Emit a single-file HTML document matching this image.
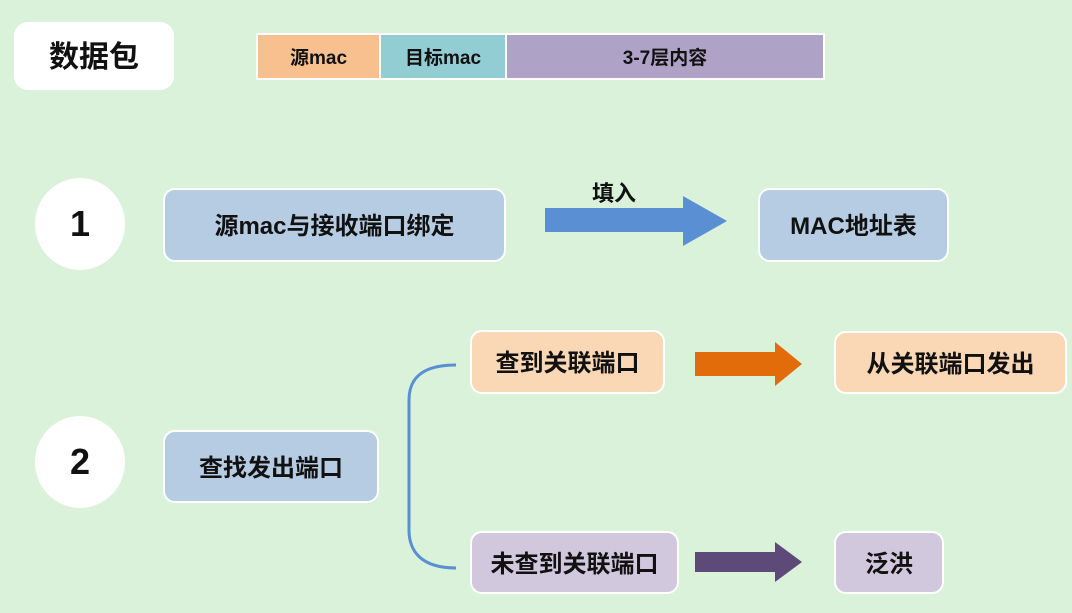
<!DOCTYPE html>
<html><head><meta charset="utf-8"><style>
body{margin:0;width:1072px;height:613px;background:#daf1da;position:relative;overflow:hidden;font-family:"Liberation Sans","Noto Sans CJK SC",sans-serif;font-weight:bold;color:#111}
.b{position:absolute;display:flex;align-items:center;justify-content:center;border-radius:12px;border:2px solid #fff;box-sizing:border-box;font-size:24px;line-height:1;padding-top:4px}
.c{position:absolute;width:90px;height:92px;border-radius:50%;background:#fff;display:flex;align-items:center;justify-content:center;font-size:36px;line-height:1}
.s{position:absolute;top:33px;height:47px;display:flex;align-items:center;justify-content:center;font-size:19px;border:2px solid #fff;box-sizing:border-box;line-height:1;padding-top:3px}
</style></head><body>
<div class="b" style="left:14px;top:22px;width:160px;height:68px;background:#fff;border-radius:14px;font-size:30px">数据包</div>
<div class="s" style="left:256px;width:125px;background:#f8c08e">源mac</div>
<div class="s" style="left:379px;width:128px;background:#93cdd4">目标mac</div>
<div class="s" style="left:505px;width:320px;background:#afa2c7">3-7层内容</div>

<div class="c" style="left:35px;top:178px">1</div>
<div class="b" style="left:163px;top:188px;width:343px;height:74px;background:#b5cce3">源mac与接收端口绑定</div>
<div style="position:absolute;left:592px;top:176px;font-size:22px">填入</div>
<svg style="position:absolute;left:0;top:0" width="1072" height="613">
<polygon points="545,208 683,208 683,196 727,221 683,246 683,232 545,232" fill="#5a8fd3"/>
<polygon points="695,352 775,352 775,342 802,364 775,386 775,376 695,376" fill="#e36c0a"/>
<polygon points="695,552 775,552 775,542 802,562 775,582 775,572 695,572" fill="#5e4a78"/>
<path d="M456,365 C420,365 409,380 409,400 L409,530 C409,550 420,568 456,568" fill="none" stroke="#5a8fd3" stroke-width="3"/>
</svg>
<div class="b" style="left:758px;top:188px;width:191px;height:74px;background:#b5cce3">MAC地址表</div>

<div class="c" style="left:35px;top:416px">2</div>
<div class="b" style="left:163px;top:430px;width:216px;height:73px;background:#b5cce3">查找发出端口</div>
<div class="b" style="left:470px;top:330px;width:195px;height:64px;background:#fad7b5">查到关联端口</div>
<div class="b" style="left:834px;top:331px;width:233px;height:63px;background:#fad7b5">从关联端口发出</div>
<div class="b" style="left:470px;top:531px;width:209px;height:63px;background:#d2c8de">未查到关联端口</div>
<div class="b" style="left:834px;top:531px;width:110px;height:63px;background:#d2c8de">泛洪</div>
</body></html>
